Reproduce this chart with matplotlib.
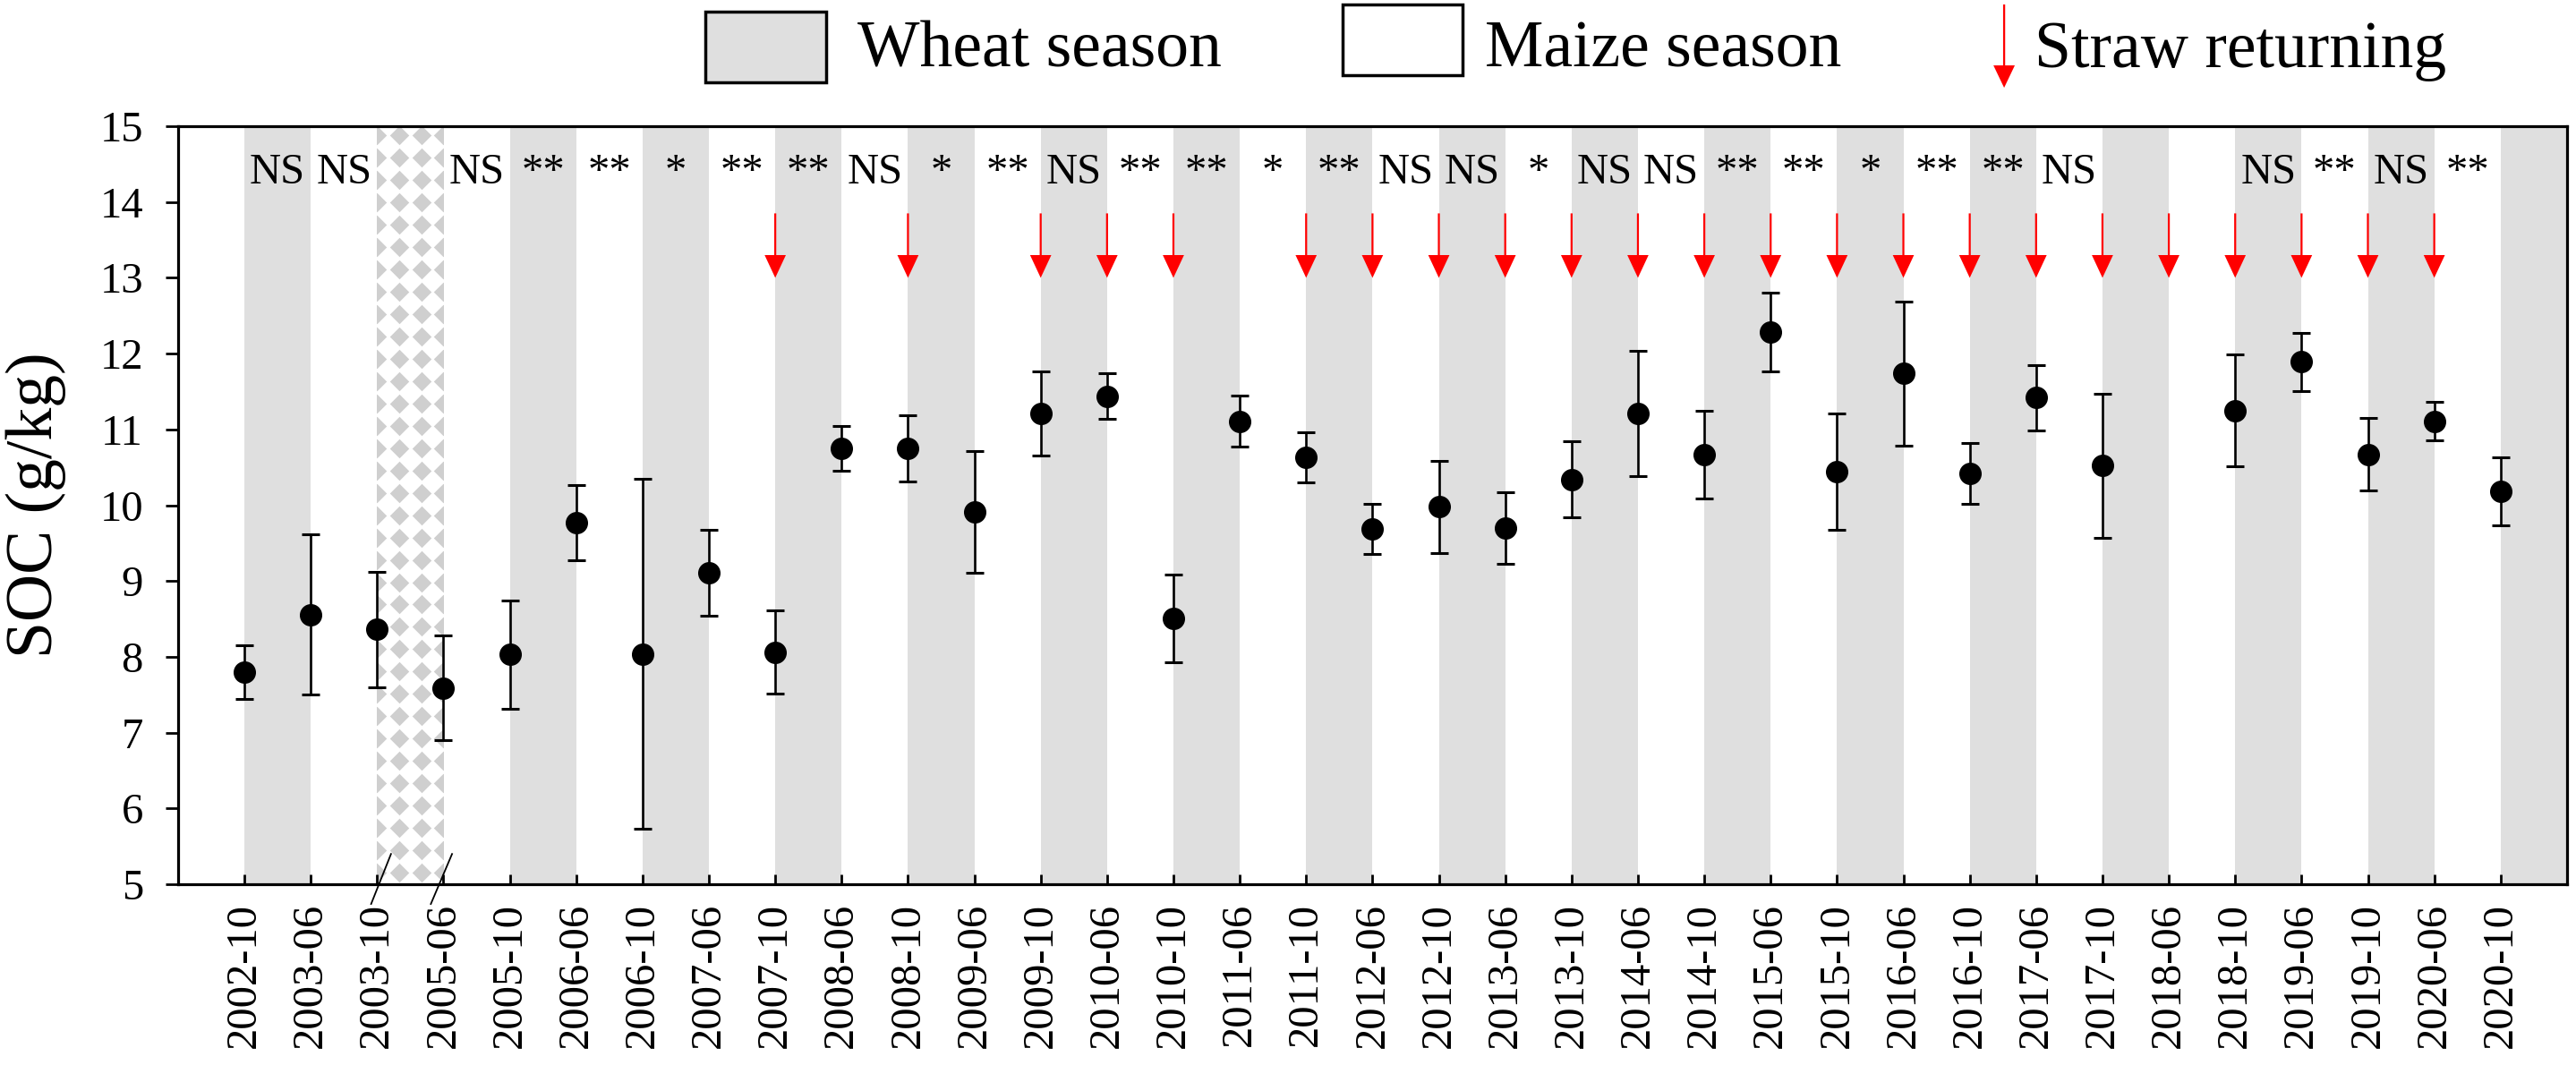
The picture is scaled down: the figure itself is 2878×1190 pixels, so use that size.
import numpy as np
import matplotlib
matplotlib.use('Agg')
import matplotlib.pyplot as plt
from matplotlib.patches import Rectangle, FancyArrow

plt.rcParams['font.family'] = ['Liberation Serif', 'DejaVu Serif']

# sampling dates (x axis)
dates = ['2002-10', '2003-06', '2003-10', '2005-06', '2005-10', '2006-06',
         '2006-10', '2007-06', '2007-10', '2008-06', '2008-10', '2009-06',
         '2009-10', '2010-06', '2010-10', '2011-06', '2011-10', '2012-06',
         '2012-10', '2013-06', '2013-10', '2014-06', '2014-10', '2015-06',
         '2015-10', '2016-06', '2016-10', '2017-06', '2017-10', '2018-06',
         '2018-10', '2019-06', '2019-10', '2020-06', '2020-10']

# SOC mean and error (g/kg); 2018-06 has no sample
soc = [7.80, 8.56, 8.36, 7.59, 8.03, 9.77, 8.04, 9.11, 8.06, 10.75,
       10.75, 9.91, 11.21, 11.44, 8.51, 11.11, 10.63, 9.69, 9.98, 9.70,
       10.34, 11.21, 10.67, 12.28, 10.44, 11.74, 10.42, 11.42, 10.52, np.nan,
       11.25, 11.89, 10.67, 11.11, 10.18]
err = [0.35, 1.06, 0.76, 0.69, 0.71, 0.50, 2.31, 0.57, 0.55, 0.30,
       0.44, 0.80, 0.55, 0.30, 0.58, 0.34, 0.33, 0.33, 0.61, 0.47,
       0.50, 0.83, 0.58, 0.52, 0.77, 0.95, 0.40, 0.43, 0.95, np.nan,
       0.74, 0.38, 0.48, 0.25, 0.45]

# significance between consecutive samples (interval i -> i+1)
sig = ['NS', 'NS', '', 'NS', '**', '**', '*', '**', '**', 'NS',
       '*', '**', 'NS', '**', '**', '*', '**', 'NS', 'NS', '*',
       'NS', 'NS', '**', '**', '*', '**', '**', 'NS', '', '',
       'NS', '**', 'NS', '**']

# samples taken after straw returning
straw = [8, 10, 12, 13, 14, 16, 17, 18, 19, 20, 21, 22, 23, 24, 25, 26,
         27, 28, 29, 30, 31, 32, 33]

n = len(dates)
x = np.arange(n)
gray = '#dfdfdf'

fig = plt.figure(figsize=(28.78, 11.9), dpi=100)
ax = fig.add_axes([0.0691, 0.1697, 0.9274, 0.7118])
ax.set_xlim(-1, n)
ax.set_ylim(5, 15)

# wheat season bands (Oct -> Jun), hatched where sampling was interrupted
gap = None
for i, d in enumerate(dates):
    if not d.endswith('-10'):
        continue
    nxt = dates[i + 1] if i + 1 < n else None
    if nxt is not None and int(nxt[:4]) > int(d[:4]) + 1:
        gap = i
        continue
    ax.axvspan(i, i + 1, color=gray, lw=0, zorder=0)

if gap is not None:
    rect = Rectangle((gap, 5), 1, 10, facecolor='white', lw=0, zorder=0)
    ax.add_patch(rect)
    gx, gy = np.meshgrid(np.arange(gap, gap + 1.01, 1 / 3),
                         np.arange(5.15, 15.2, 0.295))
    dots = ax.scatter(gx.ravel(), gy.ravel(), marker='D', s=120,
                      color='#cfcfcf', lw=0, zorder=0.5)
    dots.set_clip_path(rect)
    # axis break marks
    for off in (0, 1):
        ax.plot([gap + off - 0.09 - 0.1 * off, gap + off + 0.21 - 0.08 * off],
                [4.74, 5.40], color='black', lw=1.3, clip_on=False, zorder=5)

ax.errorbar(x, soc, yerr=err, fmt='o', color='black', ms=17,
            elinewidth=1.9, capsize=7, capthick=2.2, zorder=4)

for i, s in enumerate(sig):
    if s:
        ax.text(i + 0.5, 14.24, s, ha='center', va='baseline', fontsize=35,
                zorder=5)

for i in straw:
    ax.arrow(i, 13.85, 0, -0.85, width=0.03, head_width=0.32,
             head_length=0.3, length_includes_head=True, color='#ff0000',
             lw=0, zorder=5)

ax.set_xticks(x)
ax.set_xticklabels(dates, rotation=90)
ax.set_yticks(np.arange(5, 16, 1))
ax.tick_params(axis='x', direction='in', length=8, width=2, pad=15,
               labelsize=35)
ax.tick_params(axis='y', direction='out', length=10, width=2, pad=18,
               labelsize=35)
for sp in ax.spines.values():
    sp.set_linewidth(2.3)

fig.text(0.014, 0.5256, 'SOC (g/kg)', rotation=90, fontsize=53,
         ha='center', va='center')

# legend drawn in figure coordinates
fig.patches.append(Rectangle((0.2738, 0.9227), 0.0469, 0.0664,
                             transform=fig.transFigure, facecolor=gray,
                             edgecolor='black', lw=2.5))
fig.text(0.3329, 0.937, 'Wheat season', fontsize=53, va='baseline')
fig.patches.append(Rectangle((0.5212, 0.9294), 0.0466, 0.0664,
                             transform=fig.transFigure, facecolor='white',
                             edgecolor='black', lw=2.5))
fig.text(0.5764, 0.937, 'Maize season', fontsize=53, va='baseline')
fig.patches.append(FancyArrow(0.778, 0.9958, 0, -0.0782, width=0.0008,
                              head_width=0.0083, head_length=0.021,
                              length_includes_head=True,
                              transform=fig.transFigure, color='#ff0000',
                              lw=0))
fig.text(0.7898, 0.937, 'Straw returning', fontsize=53, va='baseline')

fig.savefig('out.png', dpi=100)
